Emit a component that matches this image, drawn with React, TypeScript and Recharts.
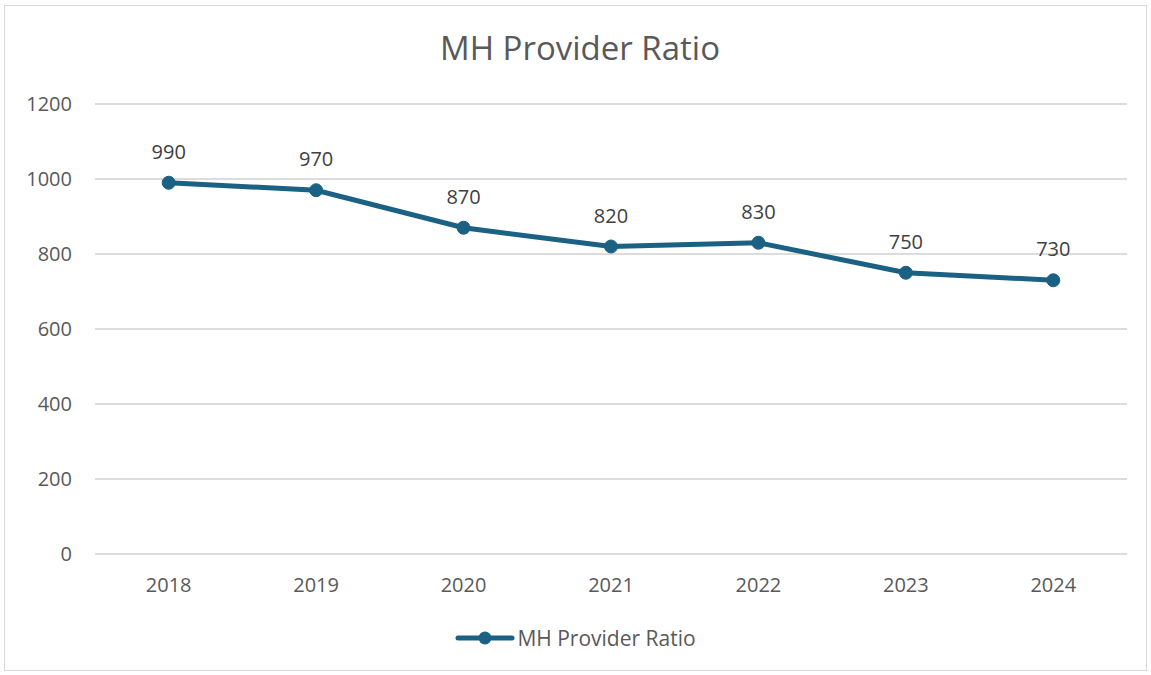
import React from "react";
import { LineChart, Line, XAxis, YAxis, CartesianGrid, LabelList } from "recharts";

const years = ["2018", "2019", "2020", "2021", "2022", "2023", "2024"];
const ratios = [990, 970, 870, 820, 830, 750, 730];
const yTicks = [0, 200, 400, 600, 800, 1000, 1200];

const seriesName = "MH Provider Ratio";
const title = "MH Provider Ratio";
const COLOR = "#1a6183";
const TEXT = "#595959";
const FONT = "'Open Sans', 'Liberation Sans', sans-serif";

const data = years.map((y, i) => ({ year: y, value: ratios[i] }));

export default function App() {
  return (
    <div style={{ position: "absolute", left: 0, top: 0, width: 1151, height: 675, background: "#fff" }}>
      <div
        style={{
          position: "absolute",
          left: 4,
          top: 5,
          width: 1143,
          height: 666,
          border: "1.5px solid #d9d9d9",
          boxSizing: "border-box",
        }}
      />
      <div
        style={{
          position: "absolute",
          left: 0,
          top: 26,
          width: 1160,
          textAlign: "center",
          fontFamily: FONT,
          fontSize: 33,
          color: TEXT,
          lineHeight: "44px",
        }}
      >
        {title}
      </div>
      <LineChart
        width={1151}
        height={675}
        data={data}
        margin={{ top: 104, right: 24, bottom: 91, left: 0 }}
        style={{ position: "absolute", left: 0, top: 0 }}
      >
        <CartesianGrid vertical={false} stroke="#dcdcdc" strokeWidth={2} />
        <XAxis
          dataKey="year"
          height={30}
          padding={{ left: 73.7, right: 73.7 }}
          axisLine={{ stroke: "#dcdcdc", strokeWidth: 2 }}
          tickLine={false}
          tickSize={0}
          tickMargin={24}
          tick={{ fill: TEXT, fontSize: 20, fontFamily: FONT }}
        />
        <YAxis
          width={95}
          domain={[0, 1200]}
          ticks={yTicks}
          axisLine={false}
          tickLine={false}
          tickSize={0}
          tickMargin={23}
          tick={{ fill: TEXT, fontSize: 20, fontFamily: FONT }}
        />
        <Line
          type="linear"
          dataKey="value"
          name={seriesName}
          stroke={COLOR}
          strokeWidth={5}
          dot={{ r: 6.5, fill: COLOR, stroke: COLOR, strokeWidth: 1 }}
          activeDot={false}
          isAnimationActive={false}
        >
          <LabelList
            dataKey="value"
            position="top"
            offset={24}
            style={{ fill: "#404040", fontSize: 20, fontFamily: FONT }}
          />
        </Line>
      </LineChart>
      <div
        style={{
          position: "absolute",
          left: 0,
          top: 624,
          width: 1151,
          display: "flex",
          justifyContent: "center",
          alignItems: "center",
          fontFamily: FONT,
        }}
      >
        <svg width={60} height={18} style={{ marginRight: 2 }}>
          <line x1={3} y1={9} x2={57} y2={9} stroke={COLOR} strokeWidth={5} strokeLinecap="round" />
          <circle cx={30} cy={9} r={6.5} fill={COLOR} />
        </svg>
        <span style={{ fontSize: 21, color: TEXT, lineHeight: "28px" }}>{seriesName}</span>
      </div>
    </div>
  );
}
